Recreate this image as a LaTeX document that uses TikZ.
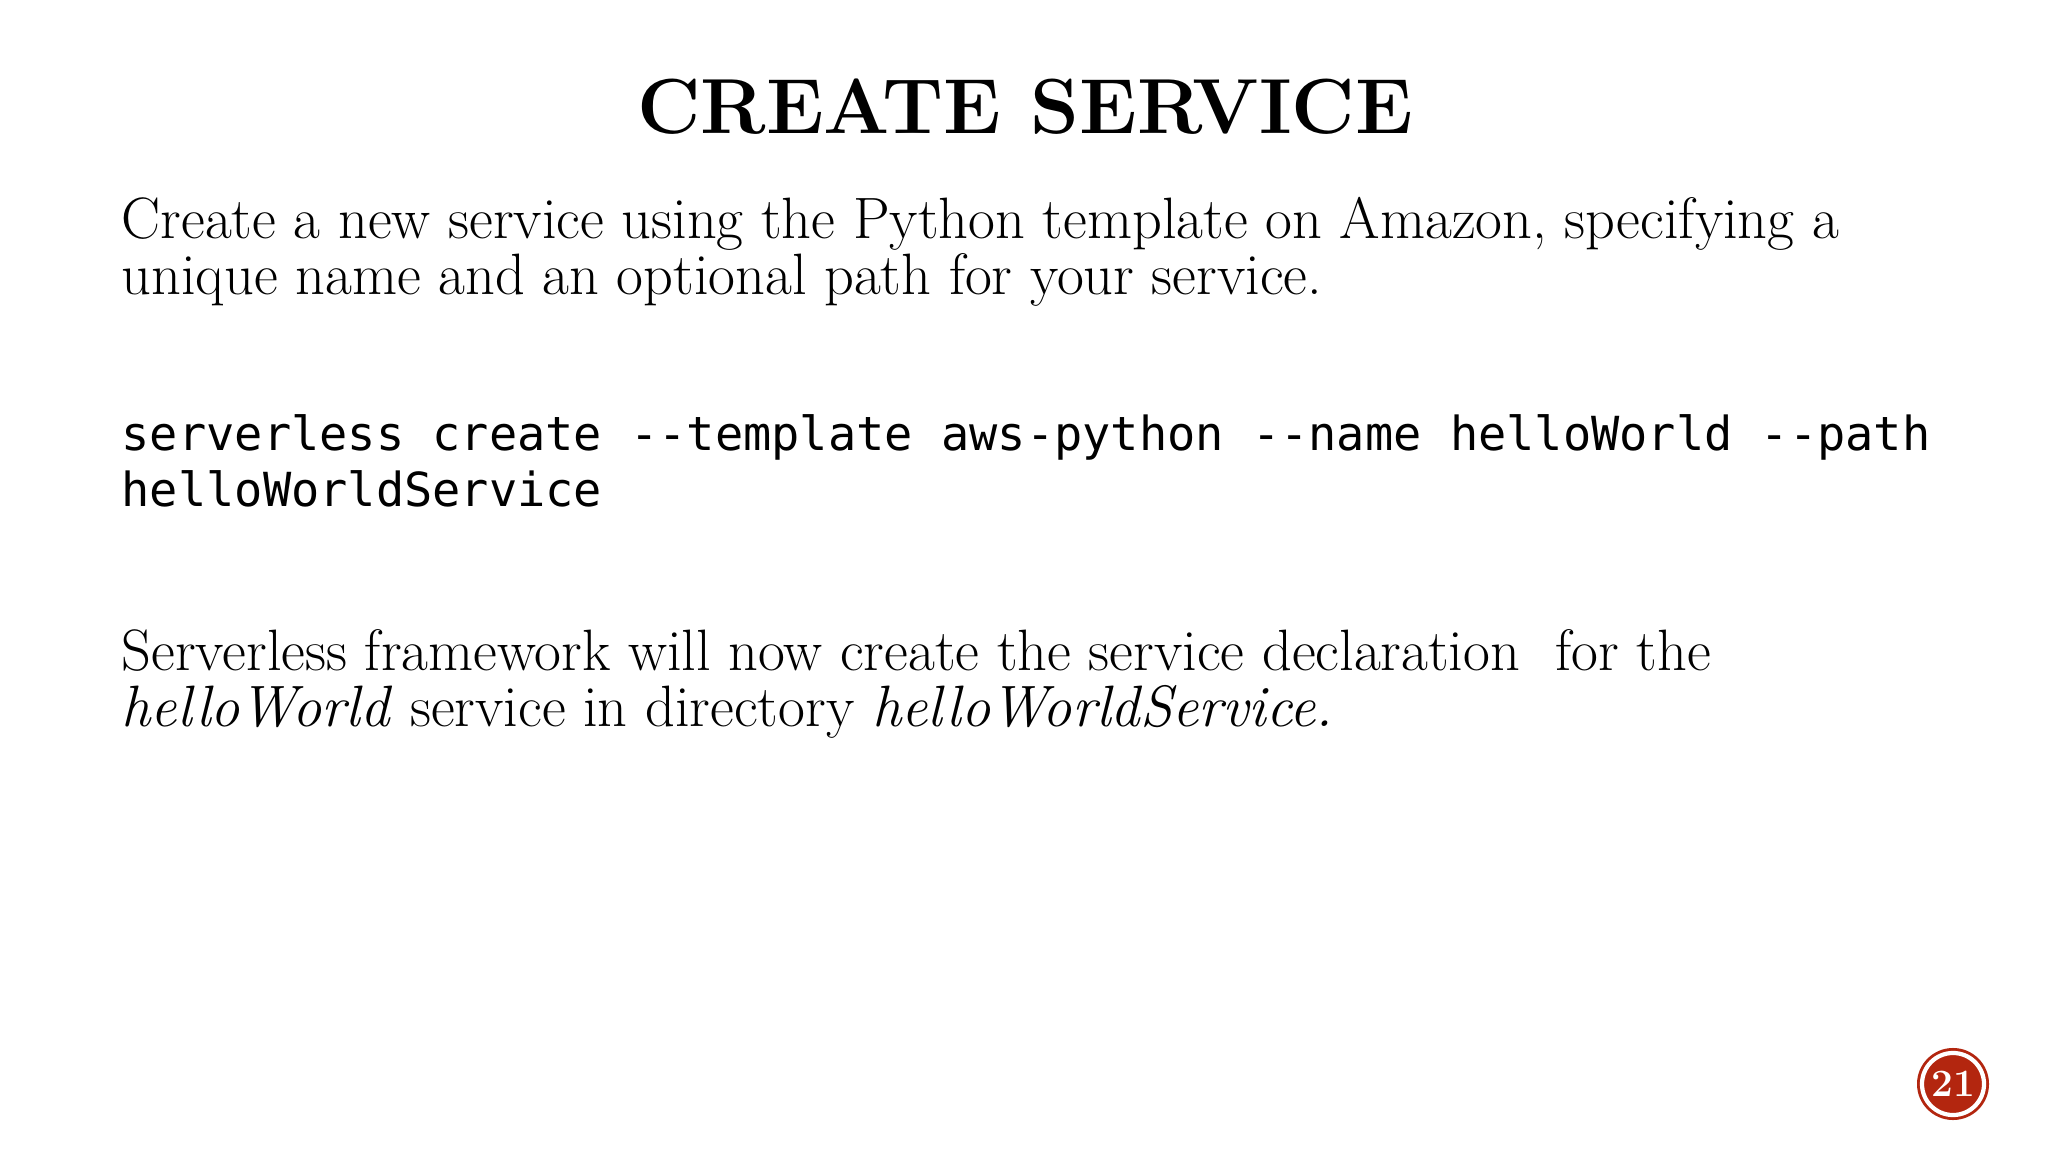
\documentclass[tikz,border=0pt]{standalone}
\usepackage{fontspec}
\newfontfamily\monof{DejaVu Sans Mono}
\definecolor{badge}{HTML}{B3260F}
\begin{document}
\begin{tikzpicture}[x=0.01cm,y=-0.01cm,
  body/.style={anchor=base west,inner sep=0pt,font=\fontsize{16.6}{20}\selectfont},
  code/.style={anchor=base west,inner sep=0pt,font=\monof\fontsize{13.35}{16}\selectfont}]
\useasboundingbox[fill=white] (0,0) rectangle (2048,1152);
\node[anchor=base,inner sep=0pt,font=\bfseries\fontsize{22.2}{27}\selectfont] (title) at (1025,134) {CREATE SERVICE};
\node[body] (l1) at (121,239) {Create a new service using the Python template on Amazon, specifying a};
\node[body] (l2) at (121,295) {unique name and an optional path for your service.};
\node[code] (c1) at (121,451) {serverless create --template aws-python --name helloWorld --path};
\node[code] (c2) at (121,507) {helloWorldService};
\node[body] (l3) at (121,670) {Serverless framework will now create the service declaration\ \ for the};
\node[body] (l4) at (121,726) {\textit{helloWorld} service in directory \textit{helloWorldService.}};
\node[circle,fill=badge,minimum size=0.72cm,inner sep=0pt] (pg) at (1953,1084) {};
\draw[white,line width=1.2pt] (pg.center) circle (0.31cm);
\node[text=white,font=\bfseries\fontsize{11}{13}\selectfont] (pgn) at (pg.center) {21};
\end{tikzpicture}
\end{document}
